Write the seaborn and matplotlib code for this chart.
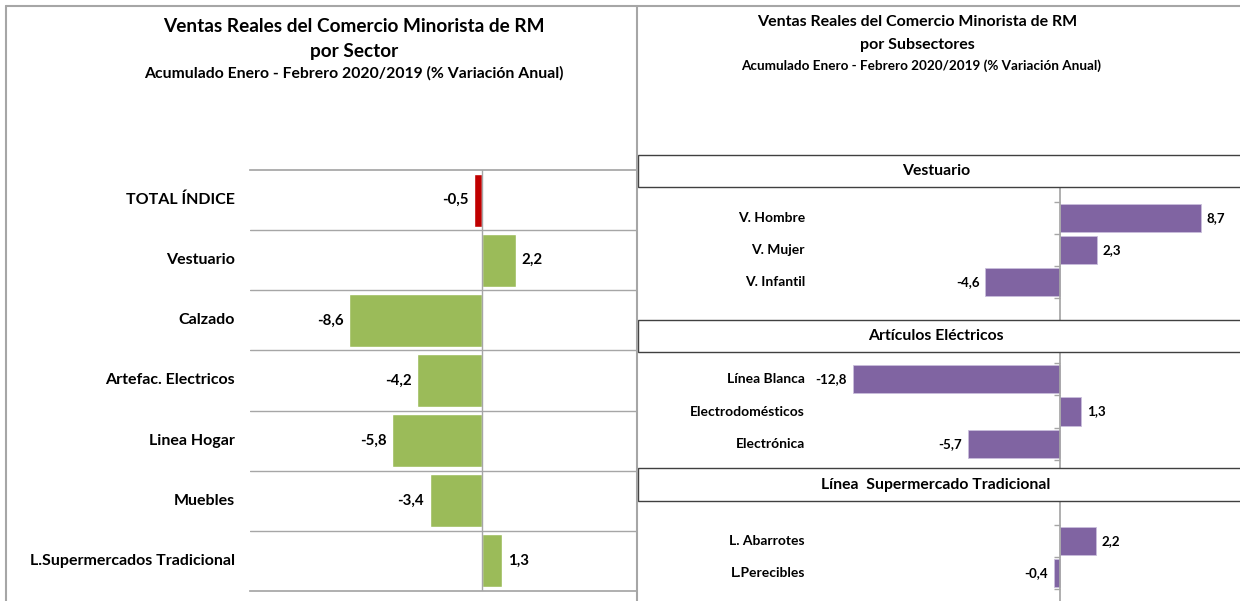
import numpy as np
import pandas as pd
import seaborn as sns
import matplotlib.pyplot as plt
import matplotlib.transforms as mtransforms
from matplotlib.lines import Line2D
from matplotlib.patches import Rectangle

sns.set_theme(style="white")
plt.rcParams["font.family"] = ["Lato", "DejaVu Sans"]
plt.rcParams["font.weight"] = "bold"
plt.rcParams["text.color"] = "black"

# datos
sectores = ["TOTAL ÍNDICE", "Vestuario", "Calzado", "Artefac. Electricos",
            "Linea Hogar", "Muebles", "L.Supermercados Tradicional"]
sector_var = [-0.5, 2.2, -8.6, -4.2, -5.8, -3.4, 1.3]

grupos = ["Vestuario", "Artículos Eléctricos", "Línea  Supermercado Tradicional"]
vest_sub = ["V. Hombre", "V. Mujer", "V. Infantil"]
vest_var = [8.7, 2.3, -4.6]
elec_sub = ["Línea Blanca", "Electrodomésticos", "Electrónica"]
elec_var = [-12.8, 1.3, -5.7]
super_sub = ["L. Abarrotes", "L.Perecibles"]
super_var = [2.2, -0.4]

ROJO = "#C00000"
VERDE = "#9BBB59"
MORADO = "#8064A2"
GRIS = "#A6A6A6"

W, H = 1240, 601
fig = plt.figure(figsize=(W / 100, H / 100), dpi=100)
fig.patch.set_facecolor("white")


def px_axes(x0, y0, x1, y1):
    return fig.add_axes([x0 / W, 1 - y1 / H, (x1 - x0) / W, (y1 - y0) / H])


def fmt(v):
    return f"{v:.1f}".replace(".", ",")


def fig_text(x, y, s, size, **kw):
    fig.text(x / W, 1 - y / H, s, ha="center", va="center", fontsize=size,
             fontweight="bold", color="black", **kw)


# marcos de la pagina
for xs, ys in [([6, W], [6, 6]), ([6, 6], [6, H]), ([637, 637], [6, H])]:
    fig.add_artist(Line2D([x / W for x in xs], [1 - y / H for y in ys],
                          color=GRIS, lw=1.5))

# ---- panel izquierdo: por sector ----
fig_text(354, 27, "Ventas Reales del Comercio Minorista de RM", 13.7)
fig_text(354, 51, "por Sector", 13.7)
fig_text(354, 73, "Acumulado Enero - Febrero 2020/2019 (% Variación Anual)", 11.3)

ax = px_axes(250, 170, 637, 591)
df = pd.DataFrame({"sector": sectores, "var": sector_var})
colores = {s: (ROJO if i == 0 else VERDE) for i, s in enumerate(sectores)}
sns.barplot(df, x="var", y="sector", hue="sector", palette=colores,
            saturation=1, width=0.88, legend=False, ax=ax)
ax.set_xlim(-15, 10)
ax.set_ylim(len(sectores) - 0.5, -0.5)
ax.set_xticks([])
ax.set_yticks([])
ax.set_yticks(np.arange(0.5, len(sectores) - 1, 1), minor=True)
ax.yaxis.grid(True, which="minor", color=GRIS, lw=1)
ax.tick_params(which="both", length=0, labelleft=False)
ax.set_xlabel("")
ax.set_ylabel("")
for side in ["left", "right"]:
    ax.spines[side].set_visible(False)
for side in ["top", "bottom"]:
    ax.spines[side].set_color(GRIS)
ax.axvline(0, color=GRIS, lw=1, zorder=3)
tr = mtransforms.blended_transform_factory(ax.transAxes, ax.transData)
for i, (s, v) in enumerate(zip(sectores, sector_var)):
    ax.text(-15 / 387, i, s, transform=tr, ha="right", va="center",
            fontsize=11.5, fontweight="bold", color="black")
    off = 4 if v > 0 else -4
    ax.annotate(fmt(v), xy=(v, i), xytext=(off, 0), textcoords="offset points",
                ha="left" if v > 0 else "right", va="center", fontsize=10.8,
                fontweight="bold", color="black")

# ---- panel derecho: por subsectores ----
fig_text(917, 22, "Ventas Reales del Comercio Minorista de RM", 11.5)
fig_text(917, 45, "por Subsectores", 11.5)
fig_text(921, 66, "Acumulado Enero - Febrero 2020/2019 (% Variación Anual)", 9.7)

bloques = [
    (vest_sub, vest_var, (155, 187), (187, 320), 218, 32),
    (elec_sub, elec_var, (320, 352), (352, 468), 379, 32.5),
    (super_sub, super_var, (468, 501), (501, 601), 541, 32),
]

for g, (cats, vals, (by0, by1), (ay0, ay1), c0, paso) in zip(grupos, bloques):
    fig.add_artist(Rectangle((638 / W, 1 - by1 / H), (W + 5 - 638) / W,
                             (by1 - by0) / H, transform=fig.transFigure,
                             facecolor="white", edgecolor="#404040", lw=1))
    fig_text(936, (by0 + by1) / 2, g, 11.3)

    axr = px_axes(638, ay0, W, ay1)
    d = pd.DataFrame({"sub": cats, "var": vals})
    sns.barplot(d, x="var", y="sub", color=MORADO, saturation=1, width=0.875,
                edgecolor="#C9BEDB", linewidth=0.6, ax=axr)
    axr.set_xlim(-(1060 - 638) / 16.2, (W - 1060) / 16.2)
    axr.set_ylim((ay1 - c0) / paso, (ay0 - c0) / paso)
    axr.set_xticks([])
    axr.set_yticks(np.arange(-0.5, len(cats), 1))
    axr.tick_params(axis="y", length=4, width=1, color=GRIS, direction="out",
                    labelleft=False, left=True)
    axr.set_xlabel("")
    axr.set_ylabel("")
    for side in ["top", "right", "bottom"]:
        axr.spines[side].set_visible(False)
    axr.spines["left"].set_position(("data", 0))
    axr.spines["left"].set_color(GRIS)
    axr.patch.set_alpha(0)
    trr = mtransforms.blended_transform_factory(axr.transAxes, axr.transData)
    for i, (s, v) in enumerate(zip(cats, vals)):
        axr.text((805 - 638) / (W - 638), i, s, transform=trr, ha="right",
                 va="center", fontsize=10, fontweight="bold", color="black")
        off = 4 if v > 0 else -4
        axr.annotate(fmt(v), xy=(v, i), xytext=(off, 0),
                     textcoords="offset points",
                     ha="left" if v > 0 else "right", va="center",
                     fontsize=9.6, fontweight="bold", color="black")

fig.savefig("out.png", dpi=100)
